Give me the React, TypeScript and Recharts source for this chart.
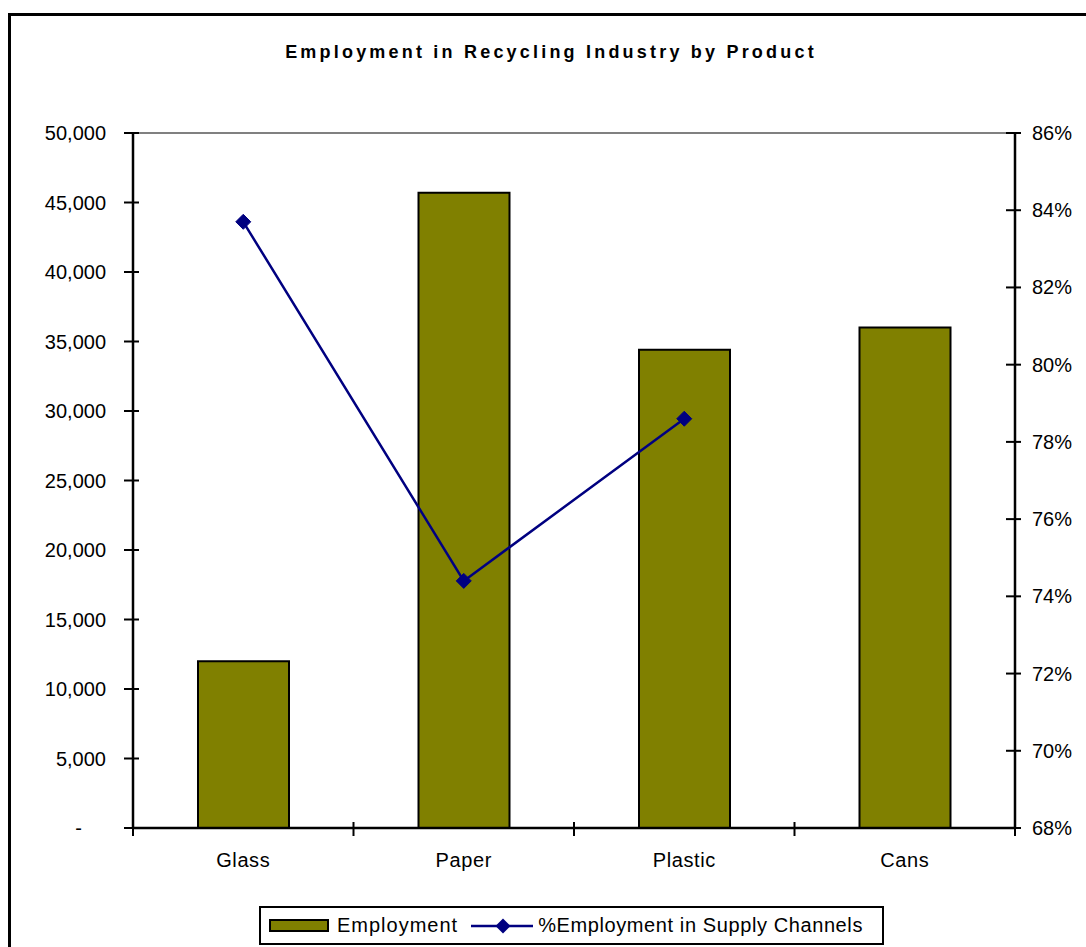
import { ComposedChart, Bar, Line, XAxis, YAxis, ReferenceLine, Legend } from 'recharts';

const categories = ['Glass', 'Paper', 'Plastic', 'Cans'];
const employment = [12000, 45700, 34400, 36000];
const supplyShare: (number | null)[] = [0.837, 0.744, 0.786, null];

const leftTicks = [0, 5000, 10000, 15000, 20000, 25000, 30000, 35000, 40000, 45000, 50000];
const rightTicks = [0.68, 0.7, 0.72, 0.74, 0.76, 0.78, 0.8, 0.82, 0.84, 0.86];

const data = categories.map((name, i) => ({
  name,
  employment: employment[i],
  share: supplyShare[i],
}));

const FONT = '"Liberation Sans", Arial, Helvetica, sans-serif';
const OLIVE = '#808000';
const NAVY = '#000080';

// plot area edges (px), used for category boundary ticks
const PLOT_LEFT = 133;
const PLOT_RIGHT = 1015;
const BAND = (PLOT_RIGHT - PLOT_LEFT) / categories.length;

const LeftTick = ({ x, y, payload }: any) => {
  const v = payload.value as number;
  return (
    <g>
      <line x1={x + 18} x2={x + 33} y1={y} y2={y} stroke="#000" strokeWidth={2} />
      <text
        x={v === 0 ? x - 24 : x}
        y={y}
        dy={7}
        textAnchor="end"
        fontSize={20}
        fontFamily={FONT}
        fill="#000"
      >
        {v === 0 ? '-' : v.toLocaleString('en-US')}
      </text>
    </g>
  );
};

const RightTick = ({ x, y, payload }: any) => (
  <g>
    <line x1={x - 26} x2={x - 11} y1={y} y2={y} stroke="#000" strokeWidth={2} />
    <text x={x} y={y} dy={7} textAnchor="start" fontSize={20} fontFamily={FONT} fill="#000">
      {Math.round(payload.value * 100) + '%'}
    </text>
  </g>
);

const CategoryTick = ({ x, y, payload, index }: any) => {
  const left = x - BAND / 2;
  return (
    <g>
      <line x1={left} x2={left} y1={y - 45} y2={y - 31} stroke="#000" strokeWidth={2} />
      {index === categories.length - 1 && (
        <line x1={left + BAND} x2={left + BAND} y1={y - 45} y2={y - 31} stroke="#000" strokeWidth={2} />
      )}
      <text x={x} y={y} textAnchor="middle" fontSize={20} fontFamily={FONT} fill="#000" letterSpacing={0.6}>
        {payload.value}
      </text>
    </g>
  );
};

const Diamond = ({ cx, cy }: any) => {
  if (cx == null || cy == null) return null;
  const r = 7.5;
  return (
    <polygon
      points={`${cx},${cy - r} ${cx + r},${cy} ${cx},${cy + r} ${cx - r},${cy}`}
      fill={NAVY}
      stroke={NAVY}
      strokeWidth={1}
    />
  );
};

const LegendBox = () => (
  <div
    style={{
      boxSizing: 'border-box',
      width: 625,
      height: 39,
      border: '2px solid #000',
      background: '#fff',
      display: 'flex',
      alignItems: 'center',
      fontFamily: FONT,
      fontSize: 20,
      color: '#000',
      paddingLeft: 8,
      whiteSpace: 'nowrap',
    }}
  >
    <span
      style={{
        boxSizing: 'border-box',
        display: 'inline-block',
        width: 60,
        height: 13,
        background: OLIVE,
        border: '2px solid #000',
      }}
    />
    <span style={{ marginLeft: 8, letterSpacing: 1 }}>Employment</span>
    <svg width={62} height={20} style={{ marginLeft: 13 }}>
      <line x1={0} x2={62} y1={10} y2={10} stroke={NAVY} strokeWidth={2.5} />
      <polygon points="32,2.5 39.5,10 32,17.5 24.5,10" fill={NAVY} />
    </svg>
    <span style={{ marginLeft: 5, letterSpacing: 0.6 }}>%Employment in Supply Channels</span>
  </div>
);

export default function App() {
  return (
    <div
      style={{
        position: 'fixed',
        left: 0,
        top: 0,
        width: 1086,
        height: 947,
        overflow: 'hidden',
        background: '#fff',
      }}
    >
      <div
        style={{
          position: 'absolute',
          left: 8,
          top: 13,
          width: 1100,
          height: 960,
          border: '3px solid #000',
        }}
      />
      <div
        style={{
          position: 'absolute',
          left: 0,
          top: 43,
          width: 1102,
          textAlign: 'center',
          fontFamily: FONT,
          fontWeight: 'bold',
          fontSize: 18,
          lineHeight: '18px',
          letterSpacing: 3.2,
          color: '#000',
          whiteSpace: 'nowrap',
        }}
      >
        Employment in Recycling Industry by Product
      </div>
      <div style={{ position: 'absolute', left: 0, top: 0 }}>
        <ComposedChart
          width={1086}
          height={947}
          data={data}
          margin={{ top: 133, right: 0, bottom: 79, left: 0 }}
        >
          <XAxis
            dataKey="name"
            xAxisId="cat"
            height={40}
            axisLine={{ stroke: '#000', strokeWidth: 2.5 }}
            tickLine={false}
            tickSize={8}
            tickMargin={31}
            tick={<CategoryTick />}
            interval={0}
          />
          <YAxis
            yAxisId="left"
            orientation="left"
            width={133}
            domain={[0, 50000]}
            ticks={leftTicks}
            interval={0}
            axisLine={{ stroke: '#000', strokeWidth: 2.5 }}
            tickLine={false}
            tickSize={8}
            tickMargin={19}
            tick={<LeftTick />}
          />
          <YAxis
            yAxisId="right"
            orientation="right"
            width={71}
            domain={[0.68, 0.86]}
            ticks={rightTicks}
            interval={0}
            allowDataOverflow
            axisLine={{ stroke: '#000', strokeWidth: 2.5 }}
            tickLine={false}
            tickSize={8}
            tickMargin={9}
            tick={<RightTick />}
          />
          <ReferenceLine yAxisId="left" xAxisId="cat" y={50000} stroke="#808080" strokeWidth={2} />
          <Bar
            xAxisId="cat"
            yAxisId="left"
            dataKey="employment"
            name="Employment"
            fill={OLIVE}
            stroke="#000"
            strokeWidth={2}
            barSize={91}
            isAnimationActive={false}
          />
          <Line
            xAxisId="cat"
            yAxisId="right"
            dataKey="share"
            name="% Employment in Supply Channels"
            type="linear"
            stroke={NAVY}
            strokeWidth={2.5}
            dot={<Diamond />}
            activeDot={false}
            connectNulls={false}
            isAnimationActive={false}
          />
          <Legend
            layout="horizontal"
            verticalAlign="middle"
            align="center"
            content={<LegendBox />}
            wrapperStyle={{ left: 259, top: 906, width: 625, height: 39 }}
          />
        </ComposedChart>
      </div>
    </div>
  );
}
